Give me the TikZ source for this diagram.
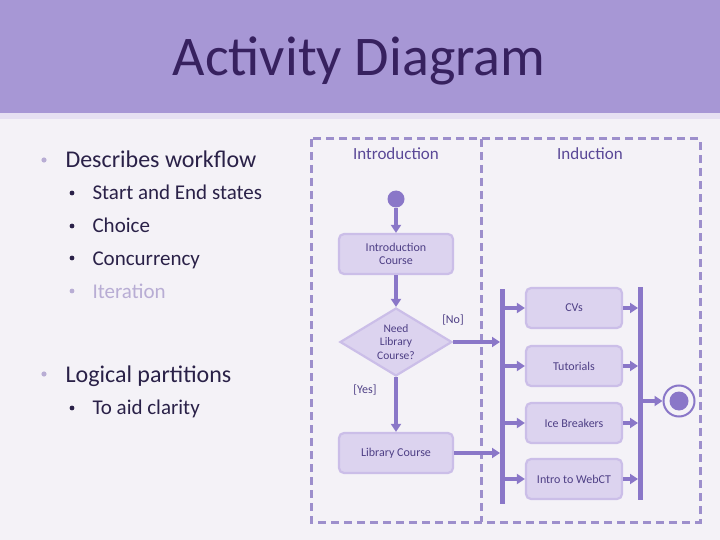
\documentclass[tikz,border=0pt]{standalone}
\usepackage{fontspec}
\setmainfont{Carlito}
\usetikzlibrary{arrows.meta,shapes.geometric}
\definecolor{bg}{HTML}{F4F2F7}
\definecolor{hdr}{HTML}{A797D5}
\definecolor{hdrlight}{HTML}{E6E0F2}
\definecolor{titlec}{HTML}{37215F}
\definecolor{txt}{HTML}{2A2148}
\definecolor{faint}{HTML}{B8ADD4}
\definecolor{ln}{HTML}{8A77C8}
\definecolor{lanec}{HTML}{9D8FCC}
\definecolor{boxf}{HTML}{DCD3EF}
\definecolor{boxd}{HTML}{CBBEE8}
\definecolor{dtxt}{HTML}{4E3F85}
\definecolor{swim}{HTML}{5A4897}
\tikzset{
  actbox/.style={draw=boxd, line width=2.2pt, fill=boxf, rounded corners=5pt, minimum width=114pt, minimum height=40pt, align=center, font=\fontsize{12}{13}\selectfont, text=dtxt, inner sep=1pt},
  indbox/.style={actbox, minimum width=96pt},
  flow/.style={draw=ln, line width=3.5pt, -{Triangle[length=8pt,width=10pt]}},
  bul/.style={anchor=base west, text=txt, font=\fontsize{24}{28}\selectfont},
  subbul/.style={anchor=base west, text=txt, font=\fontsize{21}{25}\selectfont},
  guard/.style={text=dtxt, font=\fontsize{12}{13}\selectfont},
  lane/.style={draw=lanec, line width=3pt, dash pattern=on 8pt off 5pt},
}
\begin{document}
\begin{tikzpicture}[x=1pt,y=-1pt]
\useasboundingbox (0,0) rectangle (720,540);
\fill[bg] (0,0) rectangle (720,540);
\fill[hdrlight] (0,110) rectangle (720,119);
\fill[hdr] (0,0) rectangle (720,113);
\node[anchor=base, text=titlec, font=\fontsize{56}{60}\selectfont] (title) at (359,76) {Activity Diagram};

% bullets
\fill[faint] (44,160) circle (2.6);
\node[bul] (b1) at (62,168) {Describes workflow};
\fill[txt] (72,193) circle (2.4);
\node[subbul] (s1) at (89,200) {Start and End states};
\fill[txt] (72,226) circle (2.4);
\node[subbul] (s2) at (89,233) {Choice};
\fill[txt] (72,258) circle (2.4);
\node[subbul] (s3) at (89,265) {Concurrency};
\fill[faint] (72,291) circle (2.4);
\node[subbul, text=faint] (s4) at (89,298) {Iteration};
\fill[faint] (44,374) circle (2.6);
\node[bul] (b2) at (62,382) {Logical partitions};
\fill[txt] (72,408) circle (2.4);
\node[subbul] (s5) at (89,414) {To aid clarity};

% swimlanes
\draw[lane] (311,139) rectangle (700,522);
\draw[lane] (481,139) -- (481,522);
\node[anchor=base, text=swim, font=\fontsize{17}{19}\selectfont] (l1) at (396,160) {Introduction};
\node[anchor=base, text=swim, font=\fontsize{17}{19}\selectfont] (l2) at (590,160) {Induction};

% nodes
\node[circle, fill=ln, minimum size=17pt, inner sep=0] (start) at (396,199) {};
\node[actbox] (ic) at (396,254) {Introduction\\Course};
\node[diamond, draw=boxd, line width=2.2pt, fill=boxf, minimum width=112pt, minimum height=68pt, inner sep=0, aspect=1.7, align=center, font=\fontsize{11.5}{13.5}\selectfont, text=dtxt] (dec) at (396,342) {Need\\Library\\Course?};
\node[actbox] (lc) at (396,453) {Library Course};

\fill[ln] (500,289) rectangle (505,504);
\coordinate (f1) at (500,342);
\coordinate (f2) at (500,453);

\node[indbox] (cv) at (574,308) {CVs};
\node[indbox] (tu) at (574,366) {Tutorials};
\node[indbox] (ib) at (574,423) {Ice Breakers};
\node[indbox] (wc) at (574,479) {Intro to WebCT};

\fill[ln] (638,287) rectangle (643,500);

\node[circle, draw=ln, line width=2pt, fill=bg, minimum size=31pt, inner sep=0] (end) at (679,401) {};
\fill[ln] (end.center) circle (9.5);

% connectors
\draw[flow] (start) -- (ic.north);
\draw[flow] (ic.south) -- (dec.north);
\draw[flow] (dec.east) -- (f1);
\draw[flow] (dec.south) -- (lc.north);
\draw[flow] (lc.east) -- (f2);
\foreach \n in {cv,tu,ib,wc}{
  \draw[flow] (505,0 |- \n.west) -- (\n.west);
  \draw[flow] (\n.east) -- (638,0 |- \n.east);
}
\draw[flow] (643,401) -- (end.west);

\node[guard] (no) at (453,320) {[No]};
\node[guard] (yes) at (365,390) {[Yes]};
\end{tikzpicture}
\end{document}
